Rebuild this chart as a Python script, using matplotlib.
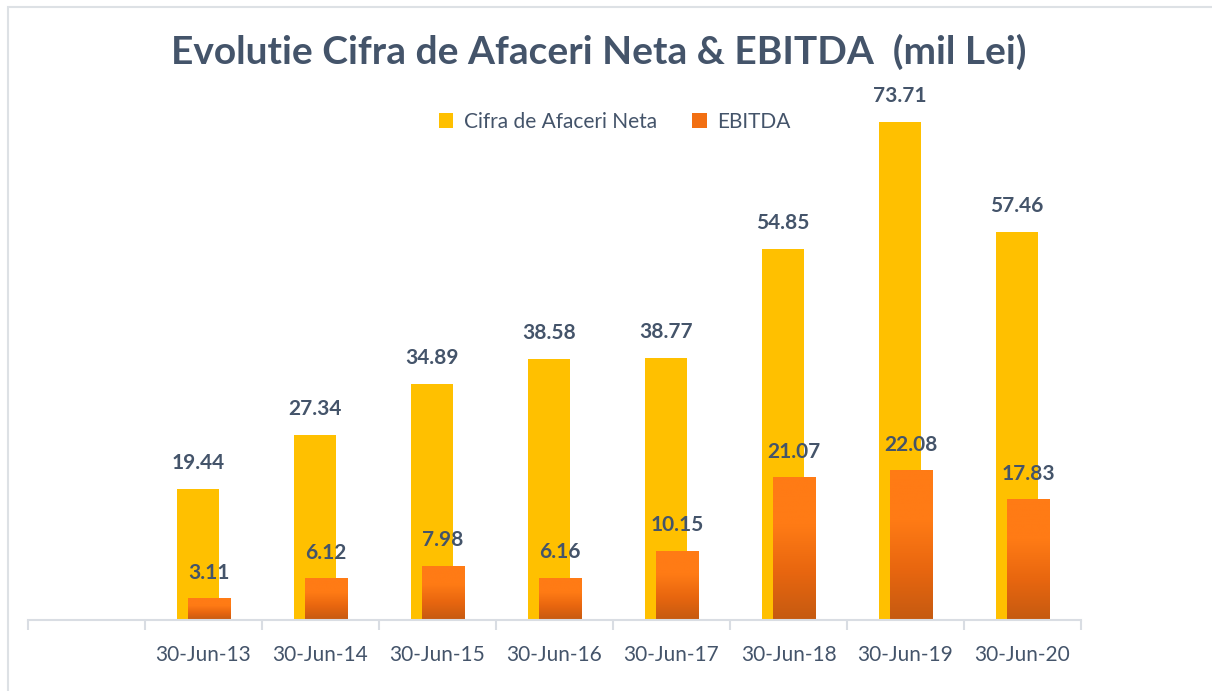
import matplotlib.pyplot as plt
import numpy as np
from matplotlib.patches import Rectangle
from matplotlib.colors import LinearSegmentedColormap

# data
dates = ['30-Jun-13', '30-Jun-14', '30-Jun-15', '30-Jun-16',
         '30-Jun-17', '30-Jun-18', '30-Jun-19', '30-Jun-20']
cifra = [19.44, 27.34, 34.89, 38.58, 38.77, 54.85, 73.71, 57.46]
ebitda = [3.11, 6.12, 7.98, 6.16, 10.15, 21.07, 22.08, 17.83]

text_col = '#44546a'
yellow = '#ffc000'
grad = LinearSegmentedColormap.from_list('og', ['#c55a11', '#e8660f', '#ff7b15', '#ff7b15'])

plt.rcParams['font.family'] = ['Lato', 'DejaVu Sans']

W, H = 1212, 691
fig = plt.figure(figsize=(W / 100, H / 100), dpi=100)

# light border around the chart area
fig.patches.append(Rectangle((8 / W, -0.1), 1.2, 1 - 7 / H + 0.1, transform=fig.transFigure,
                             fill=False, edgecolor='#dde1e5', linewidth=1.5))

ax = fig.add_axes([28 / W, (H - 620) / H, (1081 - 28) / W, (620 - 90) / H])
x = np.arange(len(dates))
bw = 0.365
off = 0.047

ax.bar(x - off, cifra, width=bw, color=yellow, zorder=2, label='Cifra de Afaceri Neta')

# EBITDA bars with vertical gradient
gimg = np.linspace(0, 1, 256).reshape(-1, 1)
for xi, v in zip(x, ebitda):
    x0 = xi + off - bw / 2
    ax.imshow(gimg, cmap=grad, extent=(x0, x0 + bw, 0, v), origin='lower',
              aspect='auto', zorder=3)
ax.bar([0], [0], width=bw, color='#f26f12', label='EBITDA')

for xi, v in zip(x, cifra):
    ax.text(xi - off, v + 3.85, f'{v:.2f}', ha='center', va='center',
            fontsize=15, fontweight='bold', color=text_col, zorder=5)
for xi, v in zip(x, ebitda):
    ax.text(xi + off, v + 3.85, f'{v:.2f}', ha='center', va='center',
            fontsize=15, fontweight='bold', color=text_col, zorder=5)

ax.set_xlim(-1.5, 7.5)
ax.set_ylim(0, 78.45)
ax.set_yticks([])
ax.set_xticks(x)
ax.set_xticklabels(dates)
ax.set_xticks(np.arange(-1.5, 8, 1), minor=True)
ax.tick_params(axis='x', which='major', length=0, pad=18, labelsize=15, labelcolor=text_col)
ax.tick_params(axis='x', which='minor', length=7, width=1.5, color='#d9dde3')
for s in ['top', 'right', 'left']:
    ax.spines[s].set_visible(False)
ax.spines['bottom'].set_color('#d9dde3')
ax.spines['bottom'].set_linewidth(1.5)
ax.spines['bottom'].set_zorder(4)

fig.text(0.494, 1 - 52 / H, 'Evolutie Cifra de Afaceri Neta & EBITDA  (mil Lei)',
         ha='center', va='center', fontsize=28, fontweight='bold', color=text_col)

leg = fig.legend(loc='center', bbox_to_anchor=(0.507, 1 - 122 / H), ncol=2, frameon=False,
                 fontsize=15, handlelength=0.7, handleheight=0.7, columnspacing=1.7,
                 handletextpad=0.5)
for t in leg.get_texts():
    t.set_color(text_col)

fig.savefig('out.png', dpi=100)
